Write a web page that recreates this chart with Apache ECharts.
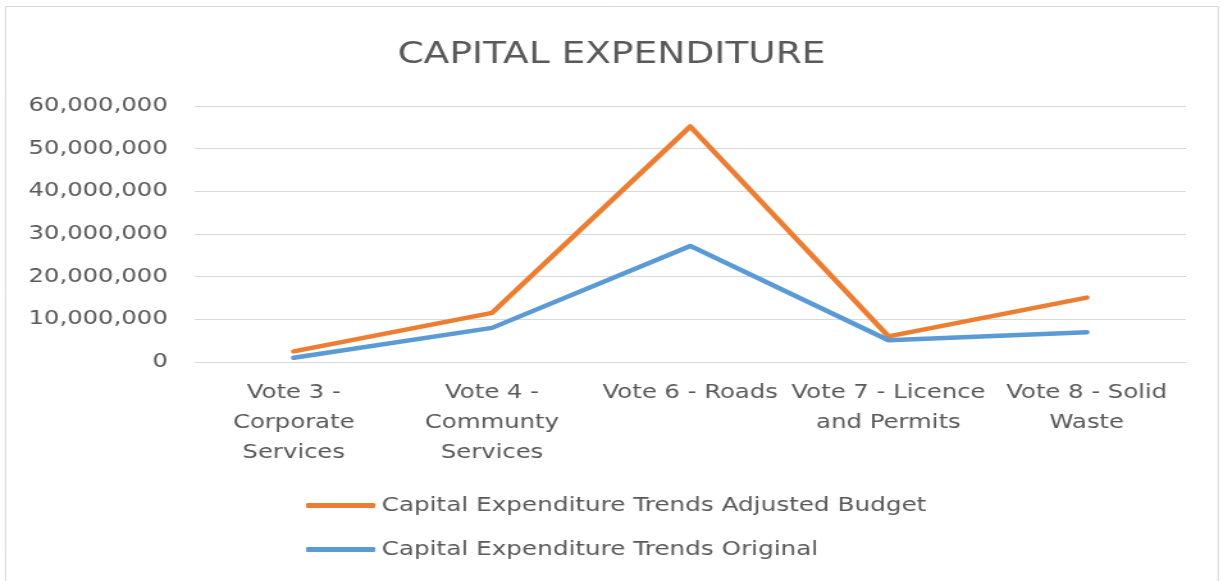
<!DOCTYPE html>
<html>
<head>
<meta charset="utf-8">
<script src="https://cdn.jsdelivr.net/npm/echarts@6/dist/echarts.min.js"></script>
<style>
  html, body { margin: 0; padding: 0; background: #fff; overflow: hidden; }
  /* the reference is a stretched Excel chart, so draw it narrower and stretch it the same way */
  #chart { width: 955px; height: 581px; transform: scaleX(1.2806); transform-origin: 0 0; }
</style>
</head>
<body>
<div id="chart"></div>
<script>
const categories = [
  'Vote 3 -\nCorporate\nServices',
  'Vote 4 -\nCommunty\nServices',
  'Vote 6 - Roads',
  'Vote 7 - Licence\nand Permits',
  'Vote 8 - Solid\nWaste'
];
const adjustedBudget = [2500000, 11500000, 55200000, 6000000, 15100000];
const original = [1000000, 8000000, 27200000, 5100000, 7000000];
const yTicks = { min: 0, max: 60000000, interval: 10000000 };

const chart = echarts.init(document.getElementById('chart'), null, { renderer: 'canvas' });
const textColor = '#595959';

const option = {
  animation: false,
  backgroundColor: '#fff',
  title: {
    text: 'CAPITAL EXPENDITURE',
    left: 'center',
    top: 36,
    textStyle: { fontFamily: 'DejaVu Sans', fontWeight: 'normal', fontSize: 29.3, color: textColor }
  },
  graphic: [{
    type: 'rect',
    shape: { x: 4.3, y: 6.5, width: 947, height: 620 },
    style: { fill: 'none', stroke: '#d9d9d9', lineWidth: 1 },
    silent: true
  }],
  grid: { left: 152, right: 29, top: 106, bottom: 219 },
  xAxis: {
    type: 'category',
    data: categories,
    boundaryGap: true,
    axisLine: { lineStyle: { color: '#d9d9d9' } },
    axisTick: { show: false },
    axisLabel: {
      interval: 0,
      margin: 16,
      color: textColor,
      fontFamily: 'DejaVu Sans',
      fontSize: 19,
      lineHeight: 30
    }
  },
  yAxis: {
    type: 'value',
    min: yTicks.min,
    max: yTicks.max,
    interval: yTicks.interval,
    axisLine: { show: false },
    axisTick: { show: false },
    splitLine: { lineStyle: { color: '#d9d9d9', width: 1 } },
    axisLabel: {
      margin: 21,
      color: textColor,
      fontFamily: 'DejaVu Sans',
      fontSize: 19,
      formatter: v => v.toLocaleString('en-US')
    }
  },
  legend: {
    orient: 'vertical',
    left: 234,
    top: 491,
    itemWidth: 54,
    itemHeight: 5,
    itemGap: 25,
    icon: 'roundRect',
    textStyle: { color: textColor, fontFamily: 'DejaVu Sans', fontSize: 19.3 },
    data: ['Capital Expenditure Trends Adjusted Budget', 'Capital Expenditure Trends Original']
  },
  series: [
    {
      name: 'Capital Expenditure Trends Adjusted Budget',
      type: 'line',
      data: adjustedBudget,
      symbol: 'none',
      color: '#ED7D31',
      lineStyle: { width: 4.5, cap: 'round', join: 'round' }
    },
    {
      name: 'Capital Expenditure Trends Original',
      type: 'line',
      data: original,
      symbol: 'none',
      color: '#5B9BD5',
      lineStyle: { width: 4.5, cap: 'round', join: 'round' }
    }
  ]
};
chart.setOption(option);
</script>
</body>
</html>
